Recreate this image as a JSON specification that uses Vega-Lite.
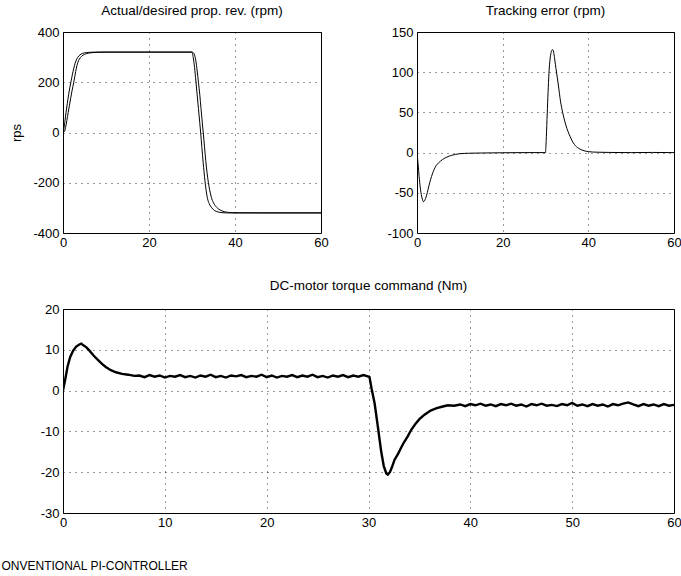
{
  "$schema": "https://vega.github.io/schema/vega-lite/v6.json",
  "autosize": {"type": "pad"},
  "padding": {"left": 0, "top": 3, "right": 0, "bottom": 0},
  "background": "white",
  "config": {
    "font": "Liberation Sans",
    "view": {"stroke": "black", "strokeWidth": 1},
    "axis": {"domain": false, "ticks": false, "labelFont": "Liberation Sans", "labelFontSize": 13, "labelColor": "black", "labelFlush": false, "labelOverlap": false, "labelExpr": "datum.value + ''", "gridColor": "black", "gridDash": [1, 5], "gridWidth": 1, "gridOpacity": 0.8, "titleFont": "Liberation Sans", "titleFontSize": 13, "titleFontWeight": "normal", "titleColor": "black"},
    "axisX": {"labelPadding": 3},
    "axisY": {"labelPadding": 4},
    "title": {"font": "Liberation Sans", "fontSize": 13.5, "fontWeight": "normal", "color": "black", "offset": 9, "baseline": "alphabetic"},
    "line": {"color": "black", "strokeWidth": 1}
  },
  "datasets": {
    "prop": [
      {"t": 0, "v": 0, "s": "d"}, {"t": 0.2, "v": 15, "s": "d"}, {"t": 0.45, "v": 45, "s": "d"}, {"t": 0.7, "v": 79, "s": "d"}, {"t": 1.0, "v": 115, "s": "d"}, {"t": 1.3, "v": 150, "s": "d"}, {"t": 1.6, "v": 180, "s": "d"}, {"t": 1.86, "v": 203, "s": "d"}, {"t": 2.2, "v": 232, "s": "d"}, {"t": 2.5, "v": 255, "s": "d"}, {"t": 2.8, "v": 275, "s": "d"}, {"t": 3.2, "v": 292, "s": "d"}, {"t": 3.7, "v": 305, "s": "d"}, {"t": 4.2, "v": 312, "s": "d"}, {"t": 5, "v": 317, "s": "d"}, {"t": 6, "v": 319, "s": "d"}, {"t": 7.5, "v": 320, "s": "d"}, {"t": 29.9, "v": 320, "s": "d"}, {"t": 30.1, "v": 315, "s": "d"}, {"t": 30.3, "v": 297, "s": "d"}, {"t": 30.6, "v": 258, "s": "d"}, {"t": 30.9, "v": 205, "s": "d"}, {"t": 31.2, "v": 150, "s": "d"}, {"t": 31.5, "v": 95, "s": "d"}, {"t": 31.8, "v": 40, "s": "d"}, {"t": 32.0, "v": 2, "s": "d"}, {"t": 32.3, "v": -60, "s": "d"}, {"t": 32.6, "v": -120, "s": "d"}, {"t": 33.0, "v": -190, "s": "d"}, {"t": 33.3, "v": -232, "s": "d"}, {"t": 33.6, "v": -262, "s": "d"}, {"t": 34.0, "v": -283, "s": "d"}, {"t": 34.6, "v": -300, "s": "d"}, {"t": 35.2, "v": -310, "s": "d"}, {"t": 36, "v": -316, "s": "d"}, {"t": 37, "v": -319, "s": "d"}, {"t": 38, "v": -320, "s": "d"}, {"t": 60, "v": -320, "s": "d"},
      {"t": 0, "v": 0, "s": "a"}, {"t": 0.3, "v": 3, "s": "a"}, {"t": 0.6, "v": 20, "s": "a"}, {"t": 0.9, "v": 48, "s": "a"}, {"t": 1.2, "v": 79, "s": "a"}, {"t": 1.5, "v": 108, "s": "a"}, {"t": 1.8, "v": 138, "s": "a"}, {"t": 2.1, "v": 166, "s": "a"}, {"t": 2.5, "v": 200, "s": "a"}, {"t": 2.8, "v": 228, "s": "a"}, {"t": 3.1, "v": 256, "s": "a"}, {"t": 3.4, "v": 276, "s": "a"}, {"t": 3.8, "v": 292, "s": "a"}, {"t": 4.3, "v": 303, "s": "a"}, {"t": 5, "v": 311, "s": "a"}, {"t": 6, "v": 316, "s": "a"}, {"t": 7, "v": 318, "s": "a"}, {"t": 8.5, "v": 319.5, "s": "a"}, {"t": 10, "v": 320, "s": "a"}, {"t": 30, "v": 320, "s": "a"}, {"t": 30.3, "v": 318, "s": "a"}, {"t": 30.6, "v": 308, "s": "a"}, {"t": 30.9, "v": 285, "s": "a"}, {"t": 31.2, "v": 245, "s": "a"}, {"t": 31.5, "v": 200, "s": "a"}, {"t": 31.8, "v": 152, "s": "a"}, {"t": 32.1, "v": 95, "s": "a"}, {"t": 32.4, "v": 38, "s": "a"}, {"t": 32.6, "v": 2, "s": "a"}, {"t": 32.9, "v": -55, "s": "a"}, {"t": 33.2, "v": -112, "s": "a"}, {"t": 33.5, "v": -160, "s": "a"}, {"t": 33.8, "v": -198, "s": "a"}, {"t": 34.1, "v": -228, "s": "a"}, {"t": 34.5, "v": -258, "s": "a"}, {"t": 35.0, "v": -280, "s": "a"}, {"t": 35.7, "v": -297, "s": "a"}, {"t": 36.5, "v": -308, "s": "a"}, {"t": 37.5, "v": -315, "s": "a"}, {"t": 38.5, "v": -318, "s": "a"}, {"t": 40, "v": -319.5, "s": "a"}, {"t": 45, "v": -320, "s": "a"}, {"t": 60, "v": -320, "s": "a"}
    ],
    "err": [
      {"t": 0, "e": 0}, {"t": 0.25, "e": -14}, {"t": 0.5, "e": -30}, {"t": 0.75, "e": -43}, {"t": 1.0, "e": -52}, {"t": 1.25, "e": -58}, {"t": 1.5, "e": -61}, {"t": 1.75, "e": -60}, {"t": 2.0, "e": -57}, {"t": 2.4, "e": -50}, {"t": 2.8, "e": -41}, {"t": 3.2, "e": -33}, {"t": 3.6, "e": -26.5}, {"t": 4.0, "e": -21}, {"t": 4.5, "e": -16}, {"t": 5.0, "e": -13}, {"t": 5.5, "e": -10.5}, {"t": 6.0, "e": -8.5}, {"t": 7.0, "e": -5.5}, {"t": 8.0, "e": -3.5}, {"t": 9.0, "e": -2.2}, {"t": 10, "e": -1.4}, {"t": 12, "e": -0.8}, {"t": 15, "e": -0.5}, {"t": 20, "e": -0.2}, {"t": 25, "e": 0}, {"t": 30, "e": 0},
      {"t": 30.1, "e": 8}, {"t": 30.2, "e": 20}, {"t": 30.4, "e": 48}, {"t": 30.6, "e": 75}, {"t": 30.8, "e": 98}, {"t": 31.0, "e": 113}, {"t": 31.25, "e": 123}, {"t": 31.5, "e": 127.5}, {"t": 31.7, "e": 128}, {"t": 31.9, "e": 125}, {"t": 32.1, "e": 118}, {"t": 32.3, "e": 110}, {"t": 32.6, "e": 99}, {"t": 33.0, "e": 84}, {"t": 33.5, "e": 64}, {"t": 34.0, "e": 50}, {"t": 34.5, "e": 39}, {"t": 35.0, "e": 30}, {"t": 35.5, "e": 23}, {"t": 36, "e": 17}, {"t": 36.5, "e": 12}, {"t": 37, "e": 8.5}, {"t": 38, "e": 4.5}, {"t": 39, "e": 2.3}, {"t": 40, "e": 1.2}, {"t": 42, "e": 0.5}, {"t": 45, "e": 0.2}, {"t": 50, "e": 0}, {"t": 55, "e": 0.2}, {"t": 60, "e": 0}
    ],
    "torque": [
      {"t": 0, "q": 0}, {"t": 0.2, "q": 2.5}, {"t": 0.45, "q": 5.9}, {"t": 0.7, "q": 8.2}, {"t": 1.0, "q": 9.8}, {"t": 1.3, "q": 10.8}, {"t": 1.6, "q": 11.3}, {"t": 1.8, "q": 11.5}, {"t": 2.0, "q": 11.1}, {"t": 2.3, "q": 10.6}, {"t": 2.6, "q": 9.8}, {"t": 3.0, "q": 8.6}, {"t": 3.4, "q": 7.6}, {"t": 3.8, "q": 6.6}, {"t": 4.2, "q": 5.8}, {"t": 4.7, "q": 5.0}, {"t": 5.2, "q": 4.5}, {"t": 5.8, "q": 4.1}, {"t": 6.4, "q": 3.9}, {"t": 7.0, "q": 3.6}, {"t": 7.5, "q": 3.7},
      {"t": 8.0, "q": 3.3}, {"t": 8.5, "q": 3.8}, {"t": 9.0, "q": 3.4}, {"t": 9.5, "q": 3.7}, {"t": 10, "q": 3.2}, {"t": 10.5, "q": 3.6}, {"t": 11, "q": 3.4}, {"t": 11.5, "q": 3.8}, {"t": 12, "q": 3.3}, {"t": 12.5, "q": 3.6}, {"t": 13, "q": 3.2}, {"t": 13.5, "q": 3.7}, {"t": 14, "q": 3.4}, {"t": 14.5, "q": 3.9}, {"t": 15, "q": 3.3}, {"t": 15.5, "q": 3.6}, {"t": 16, "q": 3.2}, {"t": 16.5, "q": 3.7}, {"t": 17, "q": 3.5}, {"t": 17.5, "q": 3.8}, {"t": 18, "q": 3.3}, {"t": 18.5, "q": 3.6}, {"t": 19, "q": 3.4}, {"t": 19.5, "q": 3.9}, {"t": 20, "q": 3.3}, {"t": 20.5, "q": 3.7}, {"t": 21, "q": 3.2}, {"t": 21.5, "q": 3.6}, {"t": 22, "q": 3.4}, {"t": 22.5, "q": 3.8}, {"t": 23, "q": 3.3}, {"t": 23.5, "q": 3.7}, {"t": 24, "q": 3.4}, {"t": 24.5, "q": 3.9}, {"t": 25, "q": 3.3}, {"t": 25.5, "q": 3.6}, {"t": 26, "q": 3.2}, {"t": 26.5, "q": 3.7}, {"t": 27, "q": 3.4}, {"t": 27.5, "q": 3.8}, {"t": 28, "q": 3.3}, {"t": 28.5, "q": 3.7}, {"t": 29, "q": 3.4}, {"t": 29.5, "q": 3.8}, {"t": 30.0, "q": 3.4}, {"t": 30.1, "q": 3.3},
      {"t": 30.3, "q": 0.5}, {"t": 30.6, "q": -3.1}, {"t": 30.9, "q": -8.5}, {"t": 31.25, "q": -15.0}, {"t": 31.5, "q": -18.5}, {"t": 31.75, "q": -20.3}, {"t": 31.9, "q": -20.6}, {"t": 32.1, "q": -20.0}, {"t": 32.3, "q": -18.8}, {"t": 32.55, "q": -17.0}, {"t": 32.9, "q": -15.5}, {"t": 33.2, "q": -14.0}, {"t": 33.5, "q": -12.6}, {"t": 33.85, "q": -11.2}, {"t": 34.2, "q": -9.6}, {"t": 34.6, "q": -8.2}, {"t": 35.0, "q": -7.0}, {"t": 35.5, "q": -5.9}, {"t": 36.1, "q": -4.9}, {"t": 36.7, "q": -4.3}, {"t": 37.3, "q": -3.9}, {"t": 37.8, "q": -3.6}, {"t": 38.4, "q": -3.7},
      {"t": 39.0, "q": -3.4}, {"t": 39.5, "q": -3.8}, {"t": 40, "q": -3.3}, {"t": 40.5, "q": -3.6}, {"t": 41, "q": -3.2}, {"t": 41.5, "q": -3.7}, {"t": 42, "q": -3.4}, {"t": 42.5, "q": -3.8}, {"t": 43, "q": -3.3}, {"t": 43.5, "q": -3.6}, {"t": 44, "q": -3.2}, {"t": 44.5, "q": -3.7}, {"t": 45, "q": -3.4}, {"t": 45.5, "q": -3.9}, {"t": 46, "q": -3.3}, {"t": 46.5, "q": -3.6}, {"t": 47, "q": -3.2}, {"t": 47.5, "q": -3.7}, {"t": 48, "q": -3.5}, {"t": 48.5, "q": -3.8}, {"t": 49, "q": -3.3}, {"t": 49.5, "q": -3.6}, {"t": 50, "q": -3.0}, {"t": 50.5, "q": -3.7}, {"t": 51, "q": -3.4}, {"t": 51.5, "q": -3.8}, {"t": 52, "q": -3.3}, {"t": 52.5, "q": -3.7}, {"t": 53, "q": -3.4}, {"t": 53.5, "q": -3.9}, {"t": 54, "q": -3.3}, {"t": 54.5, "q": -3.6}, {"t": 55, "q": -3.2}, {"t": 55.5, "q": -2.9}, {"t": 56, "q": -3.4}, {"t": 56.5, "q": -3.8}, {"t": 57, "q": -3.3}, {"t": 57.5, "q": -3.7}, {"t": 58, "q": -3.4}, {"t": 58.5, "q": -3.8}, {"t": 59, "q": -3.3}, {"t": 59.5, "q": -3.7}, {"t": 60, "q": -3.5}
    ]
  },
  "spacing": 28,
  "vconcat": [
    {
      "bounds": "flush",
      "spacing": 96,
      "hconcat": [
        {
          "width": 258,
          "height": 201,
          "title": {"text": "Actual/desired prop. rev. (rpm)"},
          "data": {"name": "prop"},
          "mark": {"type": "line", "interpolate": "monotone", "clip": true},
          "encoding": {
            "x": {"field": "t", "type": "quantitative", "scale": {"domain": [0, 60], "nice": false}, "axis": {"values": [0, 20, 40, 60], "title": null}},
            "y": {"field": "v", "type": "quantitative", "scale": {"domain": [-400, 400], "nice": false}, "axis": {"values": [-400, -200, 0, 200, 400], "title": "rps", "titlePadding": 9}},
            "detail": {"field": "s"}
          }
        },
        {
          "width": 257,
          "height": 201,
          "title": {"text": "Tracking error (rpm)"},
          "data": {"name": "err"},
          "mark": {"type": "line", "interpolate": "monotone", "clip": true},
          "encoding": {
            "x": {"field": "t", "type": "quantitative", "scale": {"domain": [0, 60], "nice": false}, "axis": {"values": [0, 20, 40, 60], "title": null}},
            "y": {"field": "e", "type": "quantitative", "scale": {"domain": [-100, 150], "nice": false}, "axis": {"values": [-100, -50, 0, 50, 100, 150], "title": null}}
          }
        }
      ]
    },
    {
      "width": 611,
      "height": 204,
      "title": {"text": "DC-motor torque command (Nm)", "offset": 11},
      "data": {"name": "torque"},
      "mark": {"type": "line", "strokeWidth": 2.4, "clip": true},
      "encoding": {
        "x": {"field": "t", "type": "quantitative", "scale": {"domain": [0, 60], "nice": false}, "axis": {"values": [0, 10, 20, 30, 40, 50, 60], "title": "ONVENTIONAL PI-CONTROLLER", "titleX": -62, "titleY": 52, "titleAlign": "left", "titleBaseline": "middle", "titleFontSize": 12}},
        "y": {"field": "q", "type": "quantitative", "scale": {"domain": [-30, 20], "nice": false}, "axis": {"values": [-30, -20, -10, 0, 10, 20], "title": null}}
      }
    }
  ]
}
